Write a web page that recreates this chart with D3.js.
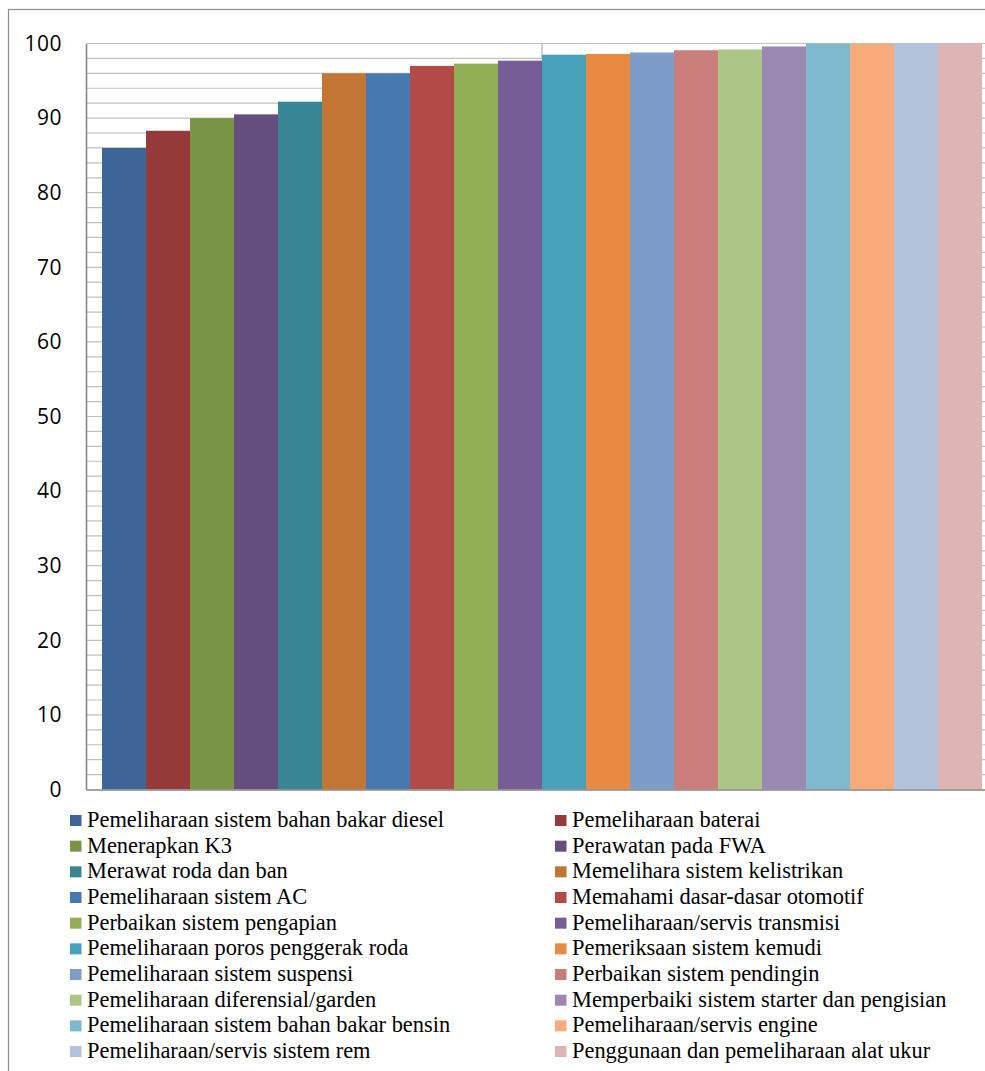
<!DOCTYPE html>
<html>
<head>
<meta charset="utf-8">
<script src="https://cdn.jsdelivr.net/npm/d3@7"></script>
<style>
  body { margin: 0; background: #fff; }
  svg { display: block; }
</style>
</head>
<body>
<svg id="chart" width="985" height="1071"></svg>
<script>
// Competency scores, sorted ascending
const categories = [
  "Pemeliharaan sistem bahan bakar diesel",
  "Pemeliharaan baterai",
  "Menerapkan K3",
  "Perawatan pada FWA",
  "Merawat roda dan ban",
  "Memelihara sistem kelistrikan",
  "Pemeliharaan sistem AC",
  "Memahami dasar-dasar otomotif",
  "Perbaikan sistem pengapian",
  "Pemeliharaan/servis transmisi",
  "Pemeliharaan poros penggerak roda",
  "Pemeriksaan sistem kemudi",
  "Pemeliharaan sistem suspensi",
  "Perbaikan sistem pendingin",
  "Pemeliharaan diferensial/garden",
  "Memperbaiki sistem starter dan pengisian",
  "Pemeliharaan sistem bahan bakar bensin",
  "Pemeliharaan/servis engine",
  "Pemeliharaan/servis sistem rem",
  "Penggunaan dan pemeliharaan alat ukur"
];
const values = [86.0, 88.3, 90.0, 90.5, 92.2, 96.0, 96.0, 97.0, 97.3, 97.7,
                98.5, 98.6, 98.8, 99.1, 99.2, 99.6, 100, 100, 100, 100];
const colors = [
  "#3d6597", "#953a39", "#7a9445", "#634e7e", "#388596",
  "#c27534", "#4878b0", "#b24b48", "#92af56", "#775d96",
  "#48a1ba", "#e88a41", "#7e9cc8", "#ca7e7c", "#adc686",
  "#9b89b3", "#7eb9cf", "#f7aa7a", "#b4c2db", "#deb5b5"
];
const yTicks = [0, 10, 20, 30, 40, 50, 60, 70, 80, 90, 100];

const svg = d3.select("#chart");

// Outer chart frame
svg.append("rect")
  .attr("x", 8.5).attr("y", 9.5)
  .attr("width", 1200).attr("height", 1200)
  .attr("fill", "none")
  .attr("stroke", "#8c8c8c")
  .attr("stroke-width", 1.2);

const plot = { left: 86, right: 998, top: 43.5, bottom: 789.5 };

const x = d3.scaleBand()
  .domain(categories)
  .range([plot.left, plot.right])
  .paddingInner(0)
  .paddingOuter(0.364);

const y = d3.scaleLinear()
  .domain([0, 100])
  .range([plot.bottom, plot.top]);

const color = d3.scaleOrdinal().domain(categories).range(colors);

// Gridlines every 2 units
svg.append("g")
  .selectAll("line")
  .data(d3.range(2, 101, 2))
  .join("line")
  .attr("x1", plot.left).attr("x2", plot.right)
  .attr("y1", d => y(d)).attr("y2", d => y(d))
  .attr("stroke", "#c0c0c0")
  .attr("stroke-width", 1.2);

// Short vertical rule at the start of the 11th bar between 98 and 100
svg.append("line")
  .attr("x1", x(categories[10])).attr("x2", x(categories[10]))
  .attr("y1", y(100)).attr("y2", y(98))
  .attr("stroke", "#b0b0b0")
  .attr("stroke-width", 1.2);

// Bars
svg.append("g")
  .selectAll("rect")
  .data(categories)
  .join("rect")
  .attr("x", d => x(d))
  .attr("width", x.bandwidth())
  .attr("y", (d, i) => y(values[i]))
  .attr("height", (d, i) => y(0) - y(values[i]))
  .attr("fill", d => color(d));

// Y axis
const yAxis = svg.append("g")
  .attr("transform", `translate(${plot.left},0)`)
  .call(d3.axisLeft(y).tickValues(yTicks).tickSize(0).tickSizeOuter(0).tickPadding(24));
yAxis.select(".domain").attr("stroke", "#868686").attr("stroke-width", 1.6);
yAxis.selectAll("text")
  .attr("font-family", "'Open Sans', 'Noto Sans', sans-serif")
  .attr("font-size", 21)
  .attr("fill", "#000")
  .attr("letter-spacing", 0.5);

// X axis baseline
const xAxis = svg.append("g")
  .attr("transform", `translate(0,${plot.bottom})`)
  .call(d3.axisBottom(x).tickSize(0).tickSizeOuter(0).tickFormat(""));
xAxis.select(".domain").attr("stroke", "#868686").attr("stroke-width", 1.6);

// Legend: two columns, row-major order
const legendCols = [70, 555];
const legendTop = 815;
const rowStep = 25.67;

const legend = svg.append("g")
  .selectAll("g")
  .data(categories)
  .join("g")
  .attr("transform", (d, i) =>
    `translate(${legendCols[i % 2]},${legendTop + Math.floor(i / 2) * rowStep})`);

legend.append("rect")
  .attr("width", 11.5).attr("height", 11)
  .attr("fill", d => color(d));

legend.append("text")
  .attr("x", 17)
  .attr("y", 12)
  .attr("font-family", "'Liberation Serif', 'Times New Roman', serif")
  .attr("font-size", 22.4)
  .attr("fill", "#000")
  .text(d => d);
</script>
</body>
</html>
